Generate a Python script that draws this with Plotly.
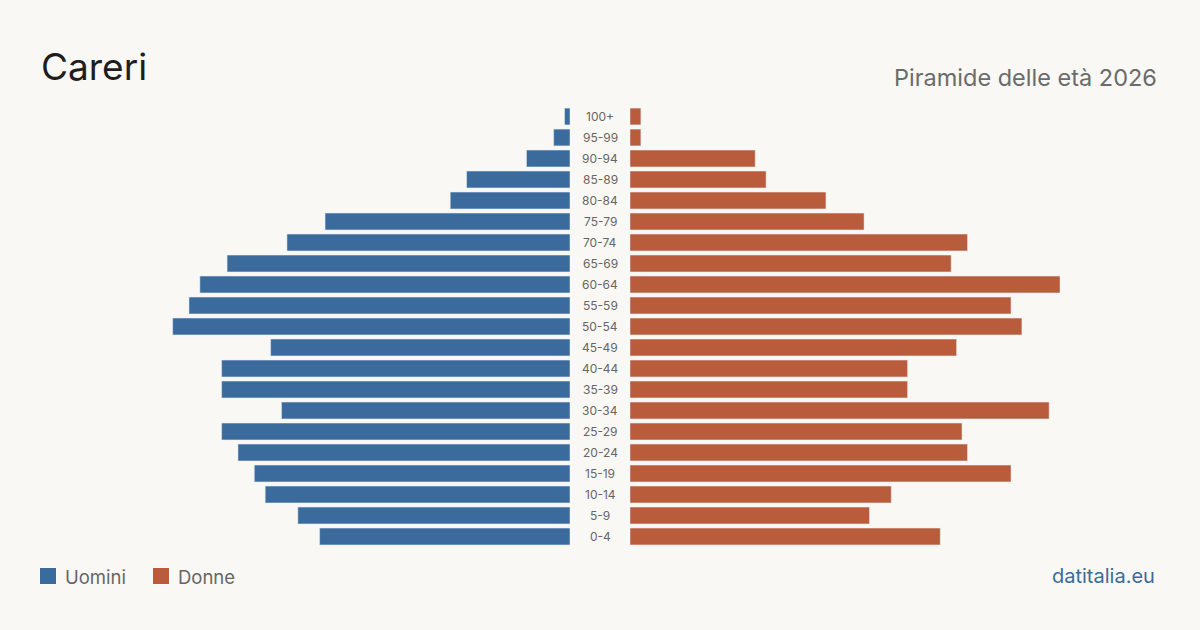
import plotly.graph_objects as go

age_groups = ["0-4", "5-9", "10-14", "15-19", "20-24", "25-29", "30-34", "35-39",
              "40-44", "45-49", "50-54", "55-59", "60-64", "65-69", "70-74",
              "75-79", "80-84", "85-89", "90-94", "95-99", "100+"]
men = [46, 50, 56, 58, 61, 64, 53, 64, 64, 55, 73, 70, 68, 63, 52, 45, 22, 19, 8, 3, 1]
women = [57, 44, 48, 70, 62, 61, 77, 51, 51, 60, 72, 70, 79, 59, 62, 43, 36, 25, 23, 2, 2]

title = "Careri"
subtitle = "Piramide delle età 2026"
legend_names = ["Uomini", "Donne"]
source = "datitalia.eu"

BLUE = "#3b6b9c"
ORANGE = "#b95c3c"
BG = "#f9f8f4"
FONT = "Inter, Liberation Sans, sans-serif"

W, H = 1200, 630
T, B = 106, 83
PH = H - T - B
xmax = max(max(men), max(women))


def py(ypx):
    return (H - B - ypx) / PH


fig = go.Figure()
fig.add_trace(go.Bar(y=age_groups, x=men, orientation="h", marker_color=BLUE,
                     width=0.8, xaxis="x", yaxis="y", name=legend_names[0],
                     showlegend=False, hoverinfo="x+y"))
fig.add_trace(go.Bar(y=age_groups, x=women, orientation="h", marker_color=ORANGE,
                     width=0.8, xaxis="x2", yaxis="y", name=legend_names[1],
                     showlegend=False, hoverinfo="x+y"))

annotations = []
for g in age_groups:
    annotations.append(dict(x=600 / W, xref="paper", y=g, yref="y", text=g,
                            showarrow=False, xanchor="center", yanchor="middle",
                            font=dict(family=FONT, size=12, color="#666666")))

annotations += [
    dict(x=39 / W, y=py(67), xref="paper", yref="paper", text=title, showarrow=False,
         xanchor="left", yanchor="middle", font=dict(family=FONT, size=37, color="#1e1e1e")),
    dict(x=1159 / W, y=py(77), xref="paper", yref="paper", text=subtitle, showarrow=False,
         xanchor="right", yanchor="middle", font=dict(family=FONT, size=23.5, color="#6b6b6b")),
    dict(x=63 / W, y=py(577), xref="paper", yref="paper", text=legend_names[0], showarrow=False,
         xanchor="left", yanchor="middle", font=dict(family=FONT, size=18.5, color="#666666")),
    dict(x=176 / W, y=py(577), xref="paper", yref="paper", text=legend_names[1], showarrow=False,
         xanchor="left", yanchor="middle", font=dict(family=FONT, size=18.5, color="#666666")),
    dict(x=1157 / W, y=py(576), xref="paper", yref="paper", text=source, showarrow=False,
         xanchor="right", yanchor="middle", font=dict(family=FONT, size=20, color="#3b6b9c")),
]

shapes = [
    dict(type="rect", xref="paper", yref="paper", x0=40 / W, x1=56 / W,
         y0=py(584), y1=py(568), fillcolor=BLUE, line_width=0),
    dict(type="rect", xref="paper", yref="paper", x0=153 / W, x1=169 / W,
         y0=py(584), y1=py(568), fillcolor=ORANGE, line_width=0),
]

fig.update_layout(
    width=W, height=H,
    paper_bgcolor=BG, plot_bgcolor=BG,
    margin=dict(l=0, r=0, t=T, b=B),
    bargap=0.2,
    xaxis=dict(domain=[140 / W, 570 / W], range=[xmax, 0], visible=False, fixedrange=True),
    xaxis2=dict(domain=[630 / W, 1060 / W], range=[0, xmax], visible=False, fixedrange=True),
    yaxis=dict(visible=False, categoryorder="array", categoryarray=age_groups,
               range=[-0.5, len(age_groups) - 0.5]),
    annotations=annotations,
    shapes=shapes,
    showlegend=False,
)

fig.write_html("out.html")
